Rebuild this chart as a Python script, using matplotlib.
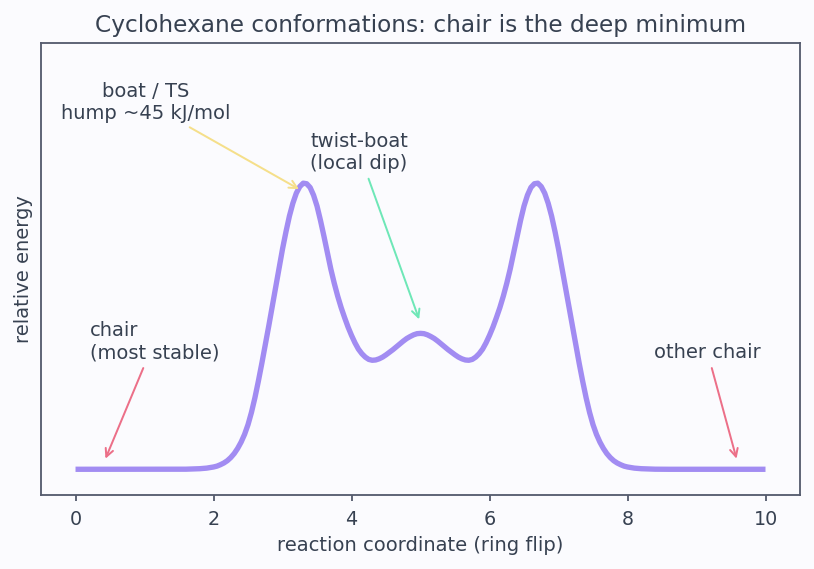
import matplotlib
matplotlib.use("Agg")
import matplotlib.pyplot as plt
import numpy as np

# reaction coordinate grid (finer where the profile bends) and energy
coord = np.r_[[0.0, 0.5, 1.0, 1.4, 1.6, 1.7, 1.75],
              np.linspace(1.8, 8.2, 129),
              [8.25, 8.3, 8.4, 8.6, 9.0, 9.5, 10.0]]
energy = [
    0.0, 0.0, 0.0, 0.0, 0.0003, 0.001, 0.0015,
    # 1.80 -> 5.00
    0.002, 0.003, 0.004, 0.006, 0.008, 0.011, 0.016, 0.022, 0.030, 0.041,
    0.055, 0.073, 0.095, 0.122, 0.156, 0.199, 0.250, 0.308, 0.370, 0.435,
    0.500, 0.568, 0.635, 0.703, 0.770, 0.830, 0.885, 0.930, 0.965, 0.988,
    1.000, 0.998, 0.985, 0.958, 0.920, 0.870, 0.815, 0.757, 0.700, 0.650,
    0.605, 0.565, 0.530, 0.497, 0.468, 0.442, 0.420, 0.404, 0.392, 0.384,
    0.381, 0.382, 0.386, 0.392, 0.400, 0.409, 0.418, 0.428, 0.438, 0.448,
    0.457, 0.464, 0.470, 0.474, 0.475,
    # 5.05 -> 8.20
    0.474, 0.470, 0.464, 0.457, 0.448, 0.438, 0.428, 0.418, 0.409, 0.400,
    0.392, 0.386, 0.382, 0.381, 0.384, 0.392, 0.404, 0.420, 0.442, 0.468,
    0.497, 0.530, 0.565, 0.605, 0.650, 0.700, 0.757, 0.815, 0.870, 0.920,
    0.958, 0.985, 0.998, 1.000, 0.988, 0.965, 0.930, 0.885, 0.830, 0.770,
    0.703, 0.635, 0.568, 0.500, 0.435, 0.370, 0.308, 0.250, 0.199, 0.156,
    0.122, 0.095, 0.073, 0.055, 0.041, 0.030, 0.022, 0.016, 0.011, 0.008,
    0.006, 0.004, 0.003, 0.002,
    0.0015, 0.001, 0.0003, 0.0, 0.0, 0.0, 0.0,
]

notes = ["boat / TS\nhump ~45 kJ/mol", "twist-boat\n(local dip)", "chair\n(most stable)", "other chair"]
note_xy = [(3.24, 0.979), (4.98, 0.524), (0.434, 0.037), (9.58, 0.037)]
note_text = [(1.013, 1.283), (3.40, 1.108), (0.203, 0.446), (9.16, 0.408)]
note_ha = ["center", "left", "left", "center"]
note_colors = ["#f5df8a", "#6ee7b7", "#ec6f88", "#ec6f88"]

BG = "#fbfbfe"
TEXT = "#374151"
SPINE = "#555b6e"

fig = plt.figure(figsize=(7.4, 5.173), dpi=110, facecolor=BG)
ax = fig.add_axes([0.0504, 0.130, 0.9324, 0.7944], facecolor=BG)

ax.plot(coord, energy, color="#a28cf2", lw=3.5, solid_capstyle="butt",
        solid_joinstyle="round", zorder=3)

for txt, xy, xyt, ha, col in zip(notes, note_xy, note_text, note_ha, note_colors):
    ax.annotate(txt, xy=xy, xytext=xyt, ha=ha, va="center", multialignment=ha,
                fontsize=12.8, color=TEXT,
                arrowprops=dict(arrowstyle="->", color=col, lw=1.3, shrinkB=0))

ax.set_xlim(-0.5, 10.5)
ax.set_ylim(-0.09, 1.49)
ax.set_xticks([0, 2, 4, 6, 8, 10])
ax.set_yticks([])
ax.tick_params(axis="x", colors=SPINE, labelcolor=TEXT, labelsize=12.5, length=4, width=1.2, pad=5.5)
for s in ax.spines.values():
    s.set_color(SPINE)
    s.set_linewidth(1.2)

ax.set_title("Cyclohexane conformations: chair is the deep minimum", fontsize=15.2, color=TEXT, pad=7)
ax.set_xlabel("reaction coordinate (ring flip)", fontsize=12.8, color=TEXT, labelpad=5)
ax.set_ylabel("relative energy", fontsize=12.8, color=TEXT, labelpad=5)

fig.savefig("out.png", dpi=110, facecolor=BG)
